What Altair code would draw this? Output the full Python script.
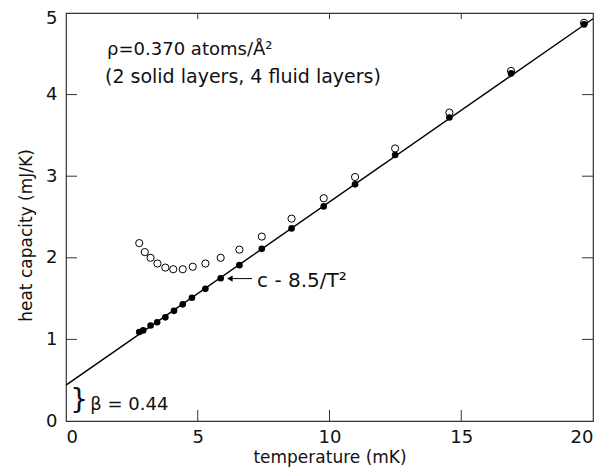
import altair as alt
import pandas as pd

# Data
T_filled = [2.78, 2.93, 3.21, 3.46, 3.77, 4.10, 4.43, 4.78, 5.29, 5.87, 6.58,
            7.43, 8.56, 9.78, 10.97, 12.49, 14.55, 16.89, 19.66]
C_filled = [1.09, 1.11, 1.17, 1.21, 1.27, 1.35, 1.43, 1.51, 1.62, 1.75, 1.91,
            2.11, 2.36, 2.63, 2.90, 3.26, 3.72, 4.26, 4.86]
T_open = [2.78, 2.99, 3.21, 3.47, 3.77, 4.07, 4.43, 4.81, 5.29, 5.87, 6.58,
          7.43, 8.56, 9.78, 10.97, 12.49, 14.55, 16.89, 19.66]
C_open = [2.18, 2.07, 2.00, 1.93, 1.88, 1.86, 1.86, 1.89, 1.93, 2.00, 2.10,
          2.26, 2.48, 2.73, 2.99, 3.34, 3.78, 4.29, 4.88]
fit_T = [0, 20]
fit_C = [0.44, 4.93]

x_ticks = [5, 10, 15]
y_ticks = [1, 2, 3, 4]

FONT = "DejaVu Sans"
W, H = 527, 408

xs = alt.Scale(domain=[0, 20], nice=False, zero=False)
ys = alt.Scale(domain=[0, 5], nice=False, zero=False)

filled = pd.DataFrame({"T": T_filled, "C": C_filled})
opened = pd.DataFrame({"T": T_open, "C": C_open})
fit = pd.DataFrame({"T": fit_T, "C": fit_C})

xax = alt.Axis(values=[0, 5, 10, 15, 20], format="d", grid=False, tickSize=0,
               domain=False, labelPadding=7, titlePadding=3,
               labelFontSize=18, titleFontSize=17, labelFont=FONT, titleFont=FONT,
               titleFontWeight="normal", labelColor="#111", titleColor="#111")
yax = alt.Axis(values=[0, 1, 2, 3, 4, 5], format="d", grid=False, tickSize=0,
               domain=False, labelPadding=9, titlePadding=10, titleY=222,
               labelOffset={"condition": {"test": "datum.value == 5", "value": 5}, "value": 0},
               labelFontSize=18, titleFontSize=17, labelFont=FONT, titleFont=FONT,
               titleFontWeight="normal", labelColor="#111", titleColor="#111")

line = alt.Chart(fit).mark_line(color="black", strokeWidth=1.4).encode(
    x=alt.X("T:Q", scale=xs, axis=xax, title="temperature (mK)"),
    y=alt.Y("C:Q", scale=ys, axis=yax, title="heat capacity (mJ/K)"),
)

open_pts = alt.Chart(opened).mark_point(
    shape="circle", filled=False, color="black", strokeWidth=1, size=52, opacity=1
).encode(x=alt.X("T:Q", scale=xs), y=alt.Y("C:Q", scale=ys))

fill_pts = alt.Chart(filled).mark_point(
    shape="circle", filled=True, color="black", size=44, opacity=1
).encode(x=alt.X("T:Q", scale=xs), y=alt.Y("C:Q", scale=ys))

xt = pd.DataFrame({"v": x_ticks})
yt = pd.DataFrame({"v": y_ticks})
tick_style = dict(color="#333", strokeWidth=1)
bt = alt.Chart(xt).mark_rule(**tick_style).encode(
    x=alt.X("v:Q", scale=xs), y=alt.value(H), y2=alt.value(H - 11))
tt = alt.Chart(xt).mark_rule(**tick_style).encode(
    x=alt.X("v:Q", scale=xs), y=alt.value(0), y2=alt.value(6))
lt = alt.Chart(yt).mark_rule(**tick_style).encode(
    y=alt.Y("v:Q", scale=ys), x=alt.value(0), x2=alt.value(11))
rt = alt.Chart(yt).mark_rule(**tick_style).encode(
    y=alt.Y("v:Q", scale=ys), x=alt.value(W), x2=alt.value(W - 11))

def label(df, size=17, align="left", baseline="middle"):
    return alt.Chart(pd.DataFrame(df)).mark_text(
        font=FONT, fontSize=size, align=align, baseline=baseline, color="#111"
    ).encode(x=alt.X("x:Q", scale=xs), y=alt.Y("y:Q", scale=ys), text="t:N")

t1 = label({"x": [1.56], "y": [4.55], "t": ["ρ=0.370 atoms/Å²"]}, size=18)
t2 = label({"x": [1.48], "y": [4.21], "t": ["(2 solid layers, 4 fluid layers)"]}, size=19)
t3 = label({"x": [7.25], "y": [1.72], "t": ["c - 8.5/T²"]}, size=20)
t4 = label({"x": [0.92], "y": [0.2], "t": ["β = 0.44"]}, size=18)
brace = label({"x": [0.5], "y": [0.24], "t": ["}"]}, size=28, align="center")

arrow_df = pd.DataFrame({"T": [6.2, 7.06], "C": [1.745, 1.745]})
arrow = alt.Chart(arrow_df).mark_line(color="black", strokeWidth=1).encode(
    x=alt.X("T:Q", scale=xs), y=alt.Y("C:Q", scale=ys))
head = alt.Chart(pd.DataFrame({"T": [6.22], "C": [1.745]})).mark_point(
    shape="triangle-left", filled=True, color="black", size=40, opacity=1
).encode(x=alt.X("T:Q", scale=xs), y=alt.Y("C:Q", scale=ys))

chart = alt.layer(
    line, open_pts, fill_pts, bt, tt, lt, rt, t1, t2, t3, t4, brace, arrow, head
).properties(
    width=W, height=H,
    background="white",
    autosize=alt.AutoSizeParams(type="none"),
    padding={"left": 58, "top": 5, "right": 12, "bottom": 47},
).configure_view(stroke="#333", strokeWidth=1.2)

chart.save("out.html", embed_options={"renderer": "svg", "actions": False})
